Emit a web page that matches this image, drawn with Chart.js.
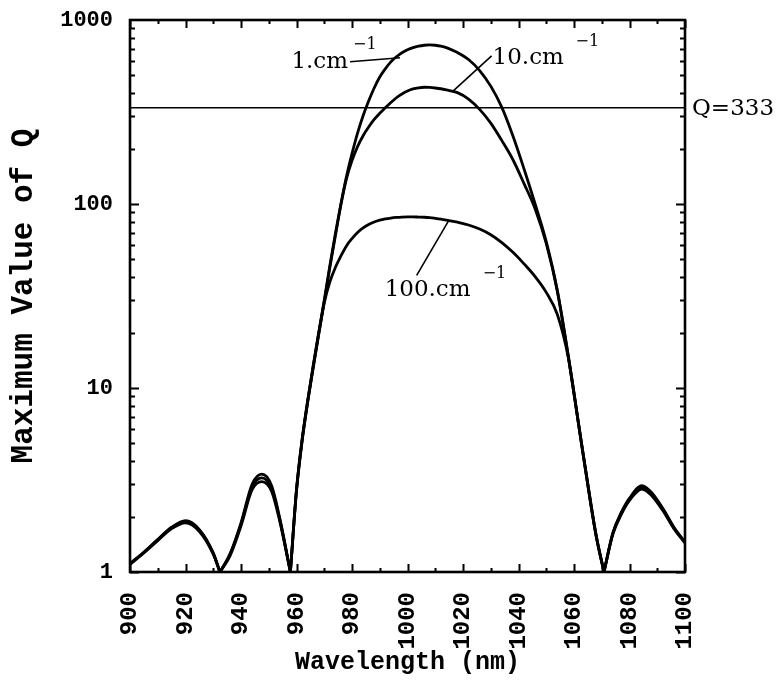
<!DOCTYPE html>
<html>
<head>
<meta charset="utf-8">
<script src="https://cdn.jsdelivr.net/npm/chart.js@4.4.1/dist/chart.umd.min.js"></script>
<style>
  html, body { margin: 0; padding: 0; background: #fff; }
  canvas { display: block; }
</style>
</head>
<body>
<canvas id="chart" width="779" height="691"></canvas>
<script>
// wavelength grid (nm); values of 1 mark the nulls between lobes
const waveNm = [
  900, 905, 910, 915, 920, 925, 930, 932.4,
  936, 940, 944, 947.5, 951, 954, 957.8,
  960, 962, 964, 966, 968, 970, 972, 974, 976, 978, 980, 982, 984, 986, 988,
  990, 992, 994, 996, 998, 1000, 1002, 1004, 1006, 1008, 1010, 1012, 1014,
  1018, 1022, 1026, 1030, 1034, 1038, 1042, 1046, 1050, 1054, 1058, 1062, 1066, 1068, 1070.8,
  1074, 1077, 1080, 1084.5, 1088, 1092, 1096, 1100
];

// maximum Q for loss 1 cm^-1
const q1 = [
  1.11, 1.28, 1.5, 1.75, 1.9, 1.7, 1.27, 1,
  1.25, 1.85, 3.0, 3.4, 2.95, 1.95, 1,
  2.8, 5.2, 8.5, 13.2, 20, 30, 46, 69, 100, 141, 188, 243, 302, 363, 427,
  490, 543, 592, 631, 664, 689, 708, 721, 729, 733, 729, 721, 708,
  665, 610, 531, 437, 335, 234, 155, 100, 62.4, 33.9, 14.8, 5.9, 2.4, 1.58, 1,
  1.63, 2.1, 2.52, 2.95, 2.7, 2.22, 1.75, 1.45
];

// maximum Q for loss 10 cm^-1
const q10 = [
  1.11, 1.28, 1.5, 1.74, 1.88, 1.69, 1.26, 1,
  1.24, 1.82, 2.9, 3.25, 2.85, 1.92, 1,
  2.8, 5.2, 8.4, 13, 19.8, 29.5, 45, 67, 99, 137, 172, 205, 235, 262, 288,
  311, 333, 356, 378, 396, 411, 422, 428, 431, 430, 427, 423, 417,
  403, 372, 327, 275, 221, 174, 129, 94, 61, 33.5, 14.6, 5.85, 2.38, 1.57, 1,
  1.62, 2.08, 2.48, 2.9, 2.66, 2.2, 1.74, 1.45
];

// maximum Q for loss 100 cm^-1
const q100 = [
  1.1, 1.27, 1.48, 1.72, 1.85, 1.66, 1.25, 1,
  1.22, 1.78, 2.8, 3.1, 2.75, 1.88, 1,
  2.75, 5.1, 8.3, 12.8, 19.5, 29, 37.6, 45.2, 52.2, 59.2, 64.9, 70, 74.1, 77.3, 79.8,
  81.7, 83, 83.9, 84.5, 84.9, 85.1, 85.1, 84.9, 84.7, 84.3, 83.6, 82.8, 81.8,
  79.6, 76.9, 73.1, 68.1, 61.7, 54.6, 47.3, 40.3, 33.1, 25.1, 14.5, 5.85, 2.35, 1.56, 1,
  1.6, 2.05, 2.45, 2.82, 2.6, 2.16, 1.72, 1.44
];

const qTarget = 333;
const xRange = [900, 1100];
const yTickValues = [1, 10, 100, 1000];

// split a series into lobes at its nulls so each lobe ends in a sharp cusp
function lobes(values) {
  const segs = [];
  let cur = [];
  values.forEach((v, i) => {
    cur.push({ x: waveNm[i], y: v });
    if (v === 1 && cur.length > 1) {
      segs.push(cur);
      cur = [{ x: waveNm[i], y: v }];
    }
  });
  if (cur.length > 1) segs.push(cur);
  return segs;
}

const datasets = [];
[q1, q10, q100].forEach((series) => {
  lobes(series).forEach((seg) => {
    datasets.push({
      data: seg,
      borderColor: '#000',
      borderWidth: 2.8,
      pointRadius: 0,
      cubicInterpolationMode: 'monotone',
      fill: false
    });
  });
});
datasets.push({
  data: [{ x: xRange[0], y: qTarget }, { x: xRange[1], y: qTarget }],
  borderColor: '#000',
  borderWidth: 1.5,
  pointRadius: 0,
  tension: 0
});

const serif = '"DejaVu Serif", "Liberation Serif", serif';
const mono = '"Liberation Mono", "DejaVu Sans Mono", monospace';

// labels: leader runs from "from" (text side) to "to" (on the curve), in data units
const curveLabels = [
  { text: '1.cm', from: [979.3, 593], to: [997.3, 623], dx: -2, dy: 6, align: 'right', supDx: 3, supDy: -13 },
  { text: '10.cm', from: [1030.3, 638], to: [1016.5, 412], dx: 1, dy: 8, align: 'left', supDx: 84, supDy: -10 },
  { text: '100.cm', from: [1003.3, 40.9], to: [1015.0, 82], dx: -32, dy: 21, align: 'left', supDx: 66, supDy: 3 }
];

const frameTicks = {
  id: 'frameTicks',
  afterDraw(chart) {
    const { ctx, chartArea: a, scales: { x, y } } = chart;
    ctx.save();
    ctx.strokeStyle = '#000';
    ctx.lineWidth = 2;
    ctx.beginPath();
    for (let v = x.min; v <= x.max; v += 10) {
      const px = Math.round(x.getPixelForValue(v)) + 0.5;
      const len = v % 20 === 0 ? 8 : 4;
      ctx.moveTo(px, a.bottom); ctx.lineTo(px, a.bottom - len);
      ctx.moveTo(px, a.top); ctx.lineTo(px, a.top + len);
    }
    for (let d = 1; d < 1000; d *= 10) {
      for (let m = 1; m <= 9; m++) {
        const py = Math.round(y.getPixelForValue(d * m)) + 0.5;
        const len = m === 1 ? 9 : 5;
        ctx.moveTo(a.left, py); ctx.lineTo(a.left + len, py);
        ctx.moveTo(a.right, py); ctx.lineTo(a.right - len, py);
      }
    }
    ctx.stroke();
    ctx.lineWidth = 2.6;
    ctx.strokeRect(a.left, a.top, a.right - a.left, a.bottom - a.top);

    // leaders and curve labels
    ctx.fillStyle = '#000';
    ctx.lineWidth = 1.6;
    curveLabels.forEach((l) => {
      const x0 = x.getPixelForValue(l.from[0]), y0 = y.getPixelForValue(l.from[1]);
      const x1 = x.getPixelForValue(l.to[0]), y1 = y.getPixelForValue(l.to[1]);
      ctx.beginPath();
      ctx.moveTo(x0, y0); ctx.lineTo(x1, y1);
      ctx.stroke();
      ctx.font = '23px ' + serif;
      ctx.textAlign = l.align;
      ctx.textBaseline = 'alphabetic';
      ctx.fillText(l.text, x0 + l.dx, y0 + l.dy);
      ctx.font = '16px ' + serif;
      ctx.textAlign = 'left';
      ctx.fillText('\u22121', x0 + l.supDx, y0 + l.supDy);
    });

    ctx.font = '23px ' + serif;
    ctx.textAlign = 'left';
    ctx.textBaseline = 'middle';
    ctx.fillText('Q=' + qTarget, a.right + 7, y.getPixelForValue(qTarget) + 1);
    ctx.restore();
  }
};

new Chart(document.getElementById('chart').getContext('2d'), {
  type: 'line',
  data: { datasets },
  options: {
    responsive: false,
    animation: false,
    events: [],
    layout: { padding: { top: 20, right: 94, bottom: 0, left: 0 } },
    plugins: { legend: { display: false }, tooltip: { enabled: false } },
    scales: {
      x: {
        type: 'linear',
        min: xRange[0],
        max: xRange[1],
        afterFit: (s) => { s.height = 119; },
        grid: { display: false, drawTicks: false },
        border: { display: false },
        ticks: {
          stepSize: 20,
          minRotation: 90,
          maxRotation: 90,
          padding: 20,
          color: '#000',
          callback: (v) => String(v),
          font: { family: mono, size: 24, weight: 'bold' }
        },
        title: {
          display: true,
          text: 'Wavelength (nm)',
          color: '#000',
          font: { family: mono, size: 25, weight: 'bold' },
          padding: { top: 0, bottom: 13 }
        }
      },
      y: {
        type: 'logarithmic',
        min: 1,
        max: 1000,
        afterFit: (s) => {
          s.width = 130;
          s.paddingTop = 0;
          s.paddingBottom = 0;
        },
        afterBuildTicks: (s) => { s.ticks = yTickValues.map((v) => ({ value: v })); },
        grid: { display: false, drawTicks: false },
        border: { display: false },
        ticks: {
          padding: 17,
          color: '#000',
          callback: (v) => String(v),
          font: { family: mono, size: 22, weight: 'bold' }
        },
        title: {
          display: true,
          text: 'Maximum Value of Q',
          color: '#000',
          font: { family: mono, size: 31, weight: 'bold' },
          padding: { top: 6, bottom: 0 }
        }
      }
    }
  },
  plugins: [frameTicks]
});
</script>
</body>
</html>
